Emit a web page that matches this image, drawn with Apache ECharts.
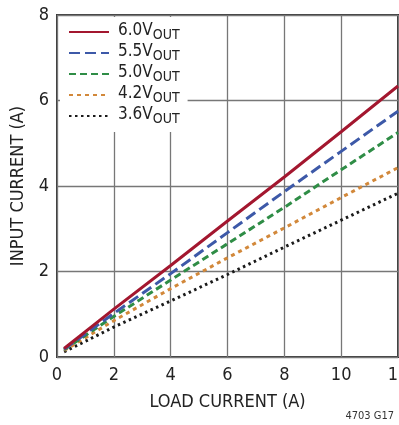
<!DOCTYPE html>
<html>
<head>
<meta charset="utf-8">
<script src="https://cdn.jsdelivr.net/npm/echarts@6/dist/echarts.min.js"></script>
<style>
  html, body { margin: 0; padding: 0; background: #fff; }
  #main { width: 399px; height: 425px; }
</style>
</head>
<body>
<div id="main"></div>
<script>
var loadCurrent = [0.25, 2, 4, 6, 8, 10, 12];
var vout60 = [0.20, 1.12, 2.14, 3.18, 4.21, 5.27, 6.34];
var vout55 = [0.18, 1.02, 1.95, 2.91, 3.87, 4.81, 5.75];
var vout50 = [0.17, 0.95, 1.80, 2.65, 3.50, 4.38, 5.25];
var vout42 = [0.15, 0.85, 1.60, 2.32, 3.02, 3.73, 4.43];
var vout36 = [0.12, 0.70, 1.31, 1.93, 2.57, 3.20, 3.83];
var seriesNames = ['6.0', '5.5', '5.0', '4.2', '3.6'];
var xTicks = [0, 2, 4, 6, 8, 10, 12];
var yTicks = [0, 2, 4, 6, 8];

var font = '"Liberation Sans Narrow", "DejaVu Sans Condensed", sans-serif';

function pairs(ys) {
    return loadCurrent.map(function (x, i) { return [x, ys[i]]; });
}

var styles = [
    { data: vout60, color: '#a3172f', type: 'solid', width: 3 },
    { data: vout55, color: '#3d59a8', type: [11, 5], width: 3 },
    { data: vout50, color: '#2f8d46', type: [7, 4], width: 3 },
    { data: vout42, color: '#d2883a', type: [4, 4], width: 3 },
    { data: vout36, color: '#1a1a1a', type: [2.5, 3.5], width: 3 }
];

var series = styles.map(function (s, i) {
    return {
        name: seriesNames[i],
        type: 'line',
        data: pairs(s.data),
        symbol: 'none',
        color: s.color,
        lineStyle: { color: s.color, type: s.type, width: s.width },
        z: 5 - i
    };
});

var chart = echarts.init(document.getElementById('main'));
chart.setOption({
    animation: false,
    grid: {
        left: 57, right: 1, top: 15, bottom: 68,
        outerBoundsMode: 'none',
        show: true, borderColor: '#3a3a3a', borderWidth: 2
    },
    legend: {
        left: 60, top: 17,
        orient: 'vertical',
        backgroundColor: '#fff',
        padding: [5, 8, 6, 8],
        itemWidth: 40, itemHeight: 14, itemGap: 1,
        itemStyle: { opacity: 0 },
        data: seriesNames,
        formatter: function (n) { return '{a|' + n + 'V}{b|OUT}'; },
        textStyle: {
            color: '#222',
            rich: {
                a: { fontFamily: font, fontSize: 17, color: '#222', lineHeight: 20, verticalAlign: 'top', padding: [0, 0, 0, 4] },
                b: { fontFamily: font, fontSize: 14, color: '#222', lineHeight: 14, verticalAlign: 'bottom' }
            }
        }
    },
    xAxis: {
        type: 'value', min: 0, max: 12, interval: 2,
        name: 'LOAD CURRENT (A)', nameLocation: 'middle', nameGap: 36,
        nameTextStyle: { fontFamily: font, fontSize: 18, color: '#222' },
        axisLine: { show: false },
        axisTick: { show: false },
        axisLabel: {
            fontFamily: font, fontSize: 18, color: '#222', margin: 9,
            formatter: function (v) { return xTicks.indexOf(v) >= 0 ? String(v) : ''; }
        },
        splitLine: { lineStyle: { color: '#777', width: 1.3 } }
    },
    yAxis: {
        type: 'value', min: 0, max: 8, interval: 2,
        name: 'INPUT CURRENT (A)', nameLocation: 'middle', nameGap: 28,
        nameTextStyle: { fontFamily: font, fontSize: 18, color: '#222' },
        axisLine: { show: false },
        axisTick: { show: false },
        axisLabel: {
            fontFamily: font, fontSize: 18, color: '#222', margin: 8,
            formatter: function (v) { return yTicks.indexOf(v) >= 0 ? String(v) : ''; }
        },
        splitLine: { lineStyle: { color: '#777', width: 1.3 } }
    },
    graphic: [{
        type: 'text', right: 5, top: 411,
        style: { text: '4703 G17', fontFamily: font, fontSize: 11, fill: '#333' }
    }],
    series: series
});
</script>
</body>
</html>
